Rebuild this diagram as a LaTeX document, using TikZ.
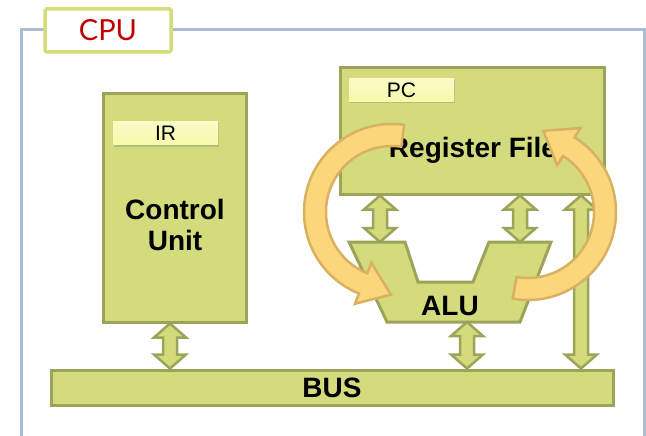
\documentclass[tikz,border=0pt]{standalone}
\usepackage{fontspec}
\setmainfont{Liberation Sans}
\newfontfamily\cpufont{Lato}
\usetikzlibrary{calc,shadows}
\definecolor{boxfill}{RGB}{211,219,125}
\definecolor{boxline}{RGB}{157,164,90}
\definecolor{regfill}{RGB}{247,250,172}
\definecolor{framecol}{RGB}{167,190,213}
\definecolor{cpuline}{RGB}{213,220,122}
\definecolor{cpured}{RGB}{192,0,0}
\definecolor{loopfill}{RGB}{251,214,122}
\definecolor{loopline}{RGB}{216,178,98}
\tikzset{
  unit/.style={draw=boxline, fill=boxfill, line width=3pt, rectangle, inner sep=0pt},
  regbox/.style={top color=regfill!70!white, bottom color=regfill, rectangle, inner sep=0pt,
    minimum width=105pt, minimum height=23pt, font=\fontsize{21}{24}\selectfont,
    drop shadow={shadow xshift=1pt, shadow yshift=-2pt, opacity=0.35}},
  title/.style={font=\fontsize{28}{31}\selectfont\bfseries, align=center},
  link/.style={draw=boxline, fill=boxfill, line width=2.5pt, line join=miter},
  loop/.style={draw=loopline, fill=loopfill, line width=2.5pt, line join=miter},
}
% block arrow with a head at both ends, #1 on top of #2
\newcommand\dblarrow[2]{%
  \path[link] let \p1=(#1), \p2=(#2) in
    (\x1,\y1) -- (\x1+16pt,\y1-14pt) -- (\x1+7pt,\y1-14pt) -- (\x1+7pt,\y2+14pt)
    -- (\x1+16pt,\y2+14pt) -- (\x2,\y2) -- (\x1-16pt,\y2+14pt) -- (\x1-7pt,\y2+14pt)
    -- (\x1-7pt,\y1-14pt) -- (\x1-16pt,\y1-14pt) -- cycle;}
\begin{document}
\begin{tikzpicture}[x=1pt,y=-1pt]
\useasboundingbox (0,0) rectangle (646,436);
% cpu frame
\draw[framecol, line width=3pt] (21,440) -- (21,30) -- (644,30) -- (644,440);
\node[draw=cpuline, fill=white, line width=3.5pt, rounded corners=1.5pt, minimum width=126pt,
  minimum height=43pt, inner sep=0pt, text=cpured, font=\cpufont\fontsize{29}{32}\selectfont]
  (cpu) at (108,30.5) {CPU};

% units
\node[unit, minimum width=143pt, minimum height=228pt] (cu) at (174.5,208) {};
\node[regbox] (ir) at (165.5,133) {IR};
\node[title] (cutext) at (175,225) {Control\\Unit};
\node[unit, minimum width=264pt, minimum height=126pt] (rf) at (472,131) {};
\node[regbox] (pc) at (401.5,90) {PC};
\node[title] (rftext) at (473,150) {Register File};
\node[unit, minimum width=562pt, minimum height=35pt] (bus) at (332,387.5) {};
\node[title] (bustext) at (332,387.5) {BUS};

% alu
\draw[unit] (349,242) coordinate (alu-a) -- (405,242) -- (418,282) -- (473,282) -- (489,242)
  -- (551,242) -- (520,322) coordinate (alu-c) -- (387,322) -- cycle;
\node[title] (alu) at (450,306) {ALU};

% arrows
\coordinate (xa) at (170,0);
\coordinate (xb) at (380,0);
\coordinate (xc) at (520,0);
\coordinate (xd) at (467,0);
\coordinate (xe) at (581,0);
\dblarrow{xa |- cu.south}{xa |- bus.north}
\dblarrow{xb |- rf.south}{xb |- alu-a}
\dblarrow{xc |- rf.south}{xc |- alu-a}
\dblarrow{xd |- alu-c}{xd |- bus.north}
\dblarrow{xe |- rf.south}{xe |- bus.north}

% loops
\coordinate (cl) at (392,212);
\coordinate (cr) at (528,212);
\path[loop] ($(cl)+(-82:88)$) arc[start angle=-82, end angle=-248, radius=88]
  -- ($(cl)+(112:99)$) -- ($(cl)+(112:77)+(22:30)$) -- ($(cl)+(112:55)$)
  -- ($(cl)+(112:66)$) arc[start angle=112, end angle=278, radius=66] -- cycle;
\path[loop] ($(cr)+(100:88)$) arc[start angle=100, end angle=-58, radius=88]
  -- ($(cr)+(-58:99)$) -- ($(cr)+(-58:77)+(-148:30)$) -- ($(cr)+(-58:55)$)
  -- ($(cr)+(-58:66)$) arc[start angle=-58, end angle=100, radius=66] -- cycle;
\end{tikzpicture}
\end{document}
